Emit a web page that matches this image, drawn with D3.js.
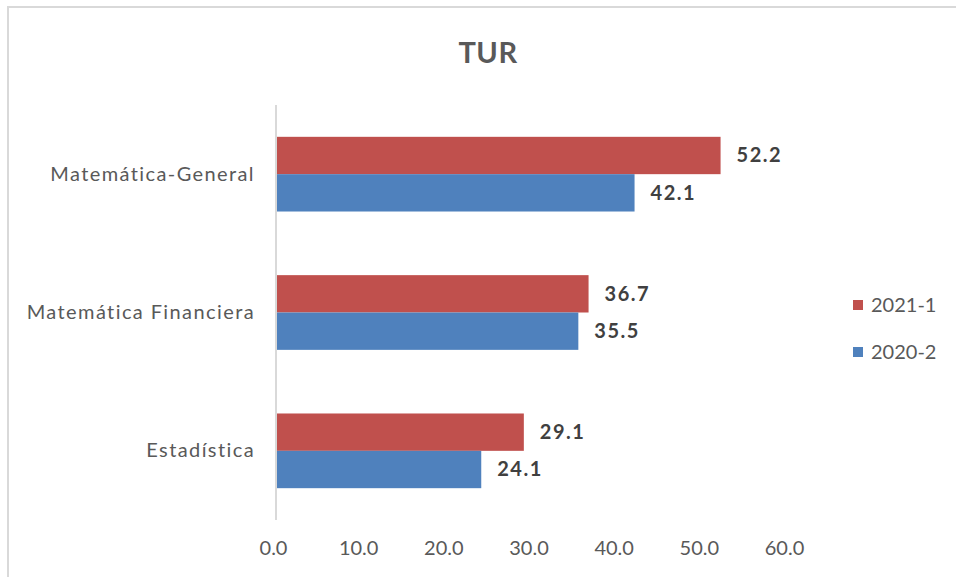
<!DOCTYPE html>
<html>
<head>
<meta charset="utf-8">
<script src="https://cdn.jsdelivr.net/npm/d3@7"></script>
<style>
  body { margin: 0; background: #fff; }
  svg { display: block; font-family: Lato, "Noto Sans", sans-serif; }
</style>
</head>
<body>
<svg id="chart" width="956" height="577"></svg>
<script>
// data
var categories = ['Matemática-General', 'Matemática Financiera', 'Estadística'];
var seriesNames = ['2021-1', '2020-2'];
var values2021 = [52.2, 36.7, 29.1];
var values2020 = [42.1, 35.5, 24.1];
var xTicks = [0, 10, 20, 30, 40, 50, 60];
var colors = ['#C0504D', '#4F81BD'];

var svg = d3.select('#chart');

// frame
svg.append('rect')
  .attr('x', 8).attr('y', 7)
  .attr('width', 960).attr('height', 590)
  .attr('fill', 'none')
  .attr('stroke', '#d9d9d9')
  .attr('stroke-width', 2);

svg.append('text')
  .attr('x', 488).attr('y', 63)
  .attr('text-anchor', 'middle')
  .attr('font-size', 29)
  .attr('font-weight', 'bold')
  .attr('letter-spacing', 0.5)
  .attr('fill', '#595959')
  .text('TUR');

var x = d3.scaleLinear().domain([0, 60]).range([276, 787]);
var y = d3.scaleBand().domain(categories).range([105, 520])
  .paddingInner(0.46).paddingOuter(0.23);
var ySub = d3.scaleBand().domain(seriesNames).range([0, y.bandwidth()]);

var rows = categories.map(function(c, i) {
  return { cat: c, vals: [values2021[i], values2020[i]] };
});

var groups = svg.selectAll('g.row').data(rows).enter()
  .append('g')
  .attr('class', 'row')
  .attr('transform', function(d) { return 'translate(0,' + y(d.cat) + ')'; });

groups.selectAll('rect').data(function(d) {
  return d.vals.map(function(v, j) { return { name: seriesNames[j], v: v, j: j }; });
}).enter().append('rect')
  .attr('x', x(0))
  .attr('y', function(d) { return ySub(d.name); })
  .attr('width', function(d) { return x(d.v) - x(0); })
  .attr('height', ySub.bandwidth())
  .attr('fill', function(d) { return colors[d.j]; });

groups.selectAll('text.val').data(function(d) {
  return d.vals.map(function(v, j) { return { name: seriesNames[j], v: v }; });
}).enter().append('text')
  .attr('class', 'val')
  .attr('x', function(d) { return x(d.v) + 16; })
  .attr('y', function(d) { return ySub(d.name) + ySub.bandwidth() / 2; })
  .attr('dy', '0.35em')
  .attr('font-size', 20)
  .attr('font-weight', 'bold')
  .attr('letter-spacing', 1.5)
  .attr('fill', '#404040')
  .text(function(d) { return d.v.toFixed(1); });

// category axis
var yAxis = svg.append('g')
  .attr('transform', 'translate(' + x(0) + ',0)')
  .call(d3.axisLeft(y).tickSize(0).tickPadding(21));
yAxis.select('.domain').attr('stroke', '#d9d9d9').attr('stroke-width', 2)
  .attr('d', 'M0,105V520');
yAxis.selectAll('text')
  .attr('font-size', 20)
  .attr('font-family', 'Lato, sans-serif')
  .attr('letter-spacing', 1.4)
  .attr('fill', '#595959');

// value axis (labels only)
var xAxis = svg.append('g')
  .attr('transform', 'translate(-3,520)')
  .call(d3.axisBottom(x).tickValues(xTicks).tickSize(0).tickPadding(21)
    .tickFormat(function(d) { return d.toFixed(1); }));
xAxis.select('.domain').remove();
xAxis.selectAll('text')
  .attr('font-size', 20)
  .attr('font-family', 'Lato, sans-serif')
  .attr('fill', '#595959');

// legend
var legend = svg.append('g').selectAll('g').data(seriesNames).enter()
  .append('g')
  .attr('transform', function(d, i) { return 'translate(853,' + (300 + i * 47) + ')'; });
legend.append('rect')
  .attr('width', 10).attr('height', 10)
  .attr('fill', function(d, i) { return colors[i]; });
legend.append('text')
  .attr('x', 18).attr('y', 5).attr('dy', '0.35em')
  .attr('font-size', 20)
  .attr('fill', '#595959')
  .text(function(d) { return d; });
</script>
</body>
</html>
